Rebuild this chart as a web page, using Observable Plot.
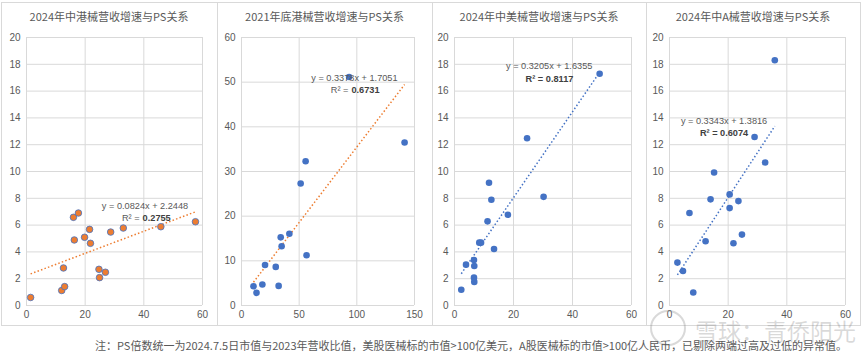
<!DOCTYPE html>
<html><head><meta charset="utf-8">
<script src="https://cdn.jsdelivr.net/npm/d3@7"></script>
<script src="https://cdn.jsdelivr.net/npm/@observablehq/plot@0.6"></script>
<style>
body{margin:0;background:#fff;}
#wrap{position:relative;width:865px;height:356px;overflow:hidden;background:#fff;}
.box{position:absolute;top:2px;height:324px;border:1px solid #D9D9D9;box-sizing:border-box;}
.title{position:absolute;top:9px;font-size:11px;line-height:14px;color:#595959;text-align:center;font-family:"Noto Sans CJK SC",sans-serif;white-space:nowrap;}
.plot{position:absolute;top:0;}
#note{position:absolute;left:95px;top:338px;font-size:11px;line-height:14px;color:#595959;font-family:"Noto Sans CJK SC",sans-serif;white-space:nowrap;}
#wm{position:absolute;left:695px;top:316px;font-size:23px;line-height:28px;color:rgba(120,120,120,0.28);font-family:"Noto Sans CJK SC",sans-serif;white-space:nowrap;}
#wmc{position:absolute;left:650px;top:310px;width:36px;height:36px;border:2px solid rgba(120,120,120,0.28);border-radius:50%;box-sizing:border-box;}
</style>
</head><body>
<div id="wrap"></div>
<script>
// ---- data ----
const titles = ["2024年中港械营收增速与PS关系","2021年底港械营收增速与PS关系","2024年中美械营收增速与PS关系","2024年中A械营收增速与PS关系"];
const hk24X = [1.4, 12.0, 13.0, 12.6, 16.0, 17.7, 16.3, 19.8, 21.5, 21.8, 24.7, 24.9, 26.9, 28.7, 33.0, 45.8, 57.6];
const hk24Y = [0.6, 1.12, 1.41, 2.8, 6.58, 6.9, 4.89, 5.09, 5.68, 4.64, 2.70, 2.08, 2.48, 5.48, 5.78, 5.88, 6.25];
const hk21X = [10.4, 13.0, 18.1, 20.4, 29.7, 32.2, 34.0, 34.8, 41.5, 51.3, 55.6, 56.4, 93.3, 141.4];
const hk21Y = [4.32, 2.83, 4.69, 9.08, 8.64, 4.39, 15.26, 13.25, 16.08, 27.3, 32.3, 11.24, 51.15, 36.5];
const us24X = [2.3, 3.9, 6.6, 6.7, 6.6, 6.7, 8.4, 9.0, 13.4, 11.2, 11.7, 12.5, 18.1, 24.6, 30.2, 49.2];
const us24Y = [1.17, 3.05, 3.40, 2.95, 2.08, 1.76, 4.69, 4.69, 4.22, 6.28, 9.16, 7.89, 6.77, 12.48, 8.11, 17.3];
const cn24X = [2.7, 4.6, 8.1, 6.8, 12.3, 14.0, 15.2, 20.5, 20.5, 23.5, 21.8, 24.7, 29.0, 32.6, 35.9];
const cn24Y = [3.2, 2.58, 0.97, 6.9, 4.79, 7.92, 9.93, 8.29, 7.27, 7.79, 4.64, 5.29, 12.58, 10.67, 18.3];
const slopes = [0.0824, 0.3378, 0.3205, 0.3343];
const intercepts = [2.2448, 1.7051, 1.6355, 1.3816];
const eqLabels = ["y = 0.0824x + 2.2448","y = 0.3378x + 1.7051","y = 0.3205x + 1.6355","y = 0.3343x + 1.3816"];
const r2Values = ["0.2755","0.6731","0.8117","0.6074"];
const xTicksA = [0, 20, 40, 60];
const yTicksA = [0, 2, 4, 6, 8, 10, 12, 14, 16, 18, 20];
const xTicksB = [0, 50, 100, 150];
const yTicksB = [0, 10, 20, 30, 40, 50, 60];
const note = "注：PS倍数统一为2024.7.5日市值与2023年营收比值，美股医械标的市值>100亿美元，A股医械标的市值>100亿人民币，已剔除两端过高及过低的异常值。";
const watermark = "雪球：青侨阳光";

const ORANGE = "#ED7D31", BLUE = "#4472C4", GRID = "#D9D9D9", TXT = "#595959";

const panels = [
  {xs: hk24X, ys: hk24Y, xd:[0,60], yd:[0,20], xt:xTicksA, yt:yTicksA, box:[1,217], plot:[26,202], dotFill:ORANGE, dotStroke:BLUE, line:ORANGE,
   eq:[40.4,7.42], r2:[38.9,6.5], r2Bold:false},
  {xs: hk21X, ys: hk21Y, xd:[0,150], yd:[0,60], xt:xTicksB, yt:yTicksB, box:[217,432], plot:[241,414], dotFill:BLUE, dotStroke:"none", line:ORANGE,
   eq:[97.9,50.9], r2:[93.6,48.3], r2Bold:false},
  {xs: us24X, ys: us24Y, xd:[0,60], yd:[0,20], xt:xTicksA, yt:yTicksA, box:[432,646], plot:[454,631], dotFill:BLUE, dotStroke:"none", line:BLUE,
   eq:[32.1,17.84], r2:[32.2,16.92], r2Bold:true},
  {xs: cn24X, ys: cn24Y, xd:[0,60], yd:[0,20], xt:xTicksA, yt:yTicksA, box:[646,860], plot:[669,845], dotFill:BLUE, dotStroke:"none", line:BLUE,
   eq:[18.6,13.8], r2:[18.6,12.85], r2Bold:true}
];

const wrap = document.getElementById("wrap");
const FONT = '"Liberation Sans","Noto Sans CJK SC",sans-serif';

panels.forEach((p, i) => {
  const box = document.createElement("div");
  box.className = "box";
  box.style.left = p.box[0] + "px";
  box.style.width = (p.box[1] - p.box[0] + 1) + "px";
  wrap.appendChild(box);

  const t = document.createElement("div");
  t.className = "title";
  t.style.left = p.box[0] + "px";
  t.style.width = (p.box[1] - p.box[0]) + "px";
  t.textContent = titles[i];
  wrap.appendChild(t);

  const pts = p.xs.map((x, k) => ({x, y: p.ys[k]}));
  const [x0, x1] = d3.extent(p.xs);
  const trend = [x0, x1].map(x => ({x, y: slopes[i] * x + intercepts[i]}));
  const W = p.box[1] - p.box[0];

  const marks = [
    Plot.gridX(p.xt, {stroke: GRID, strokeOpacity: 1}),
    Plot.gridY(p.yt, {stroke: GRID, strokeOpacity: 1}),
    Plot.axisX(p.xt, {tickSize: 0, tickPadding: 5, fill: TXT, fontSize: 10}),
    Plot.axisY(p.yt, {tickSize: 0, tickPadding: 6, fill: TXT, fontSize: 10}),
    Plot.line(trend, {x: "x", y: "y", stroke: p.line, strokeWidth: 1.5, strokeDasharray: "1.5,2.2", strokeLinecap: "butt"}),
    Plot.dot(pts, {x: "x", y: "y", r: 3.3, fill: p.dotFill, stroke: p.dotStroke, strokeWidth: 0.8}),
    Plot.text([eqLabels[i]], {x: p.eq[0], y: p.eq[1], text: d => d, fill: TXT, fontSize: 9.2})
  ];
  if (p.r2Bold) {
    marks.push(Plot.text(["R² = " + r2Values[i]], {x: p.r2[0], y: p.r2[1], text: d => d, fill: "#404040", fontSize: 9.2, fontWeight: "bold"}));
  } else {
    marks.push(Plot.text(["R² ="], {x: p.r2[0], y: p.r2[1], text: d => d, fill: TXT, fontSize: 9.2, textAnchor: "end", dx: -1}));
    marks.push(Plot.text([r2Values[i]], {x: p.r2[0], y: p.r2[1], text: d => d, fill: "#404040", fontSize: 9.2, fontWeight: "bold", textAnchor: "start", dx: 2}));
  }

  const svg = Plot.plot({
    width: W, height: 326,
    marginLeft: p.plot[0] - p.box[0], marginRight: p.box[1] - p.plot[1],
    marginTop: 37, marginBottom: 21,
    x: {domain: p.xd, label: null},
    y: {domain: p.yd, label: null},
    style: {fontFamily: FONT, fontSize: "10px", color: TXT, background: "transparent", overflow: "visible"},
    marks
  });
  svg.classList.add("plot");
  svg.style.position = "absolute";
  svg.style.left = p.box[0] + "px";
  svg.style.top = "0px";
  wrap.appendChild(svg);
});

const wmc = document.createElement("div"); wmc.id = "wmc"; wrap.appendChild(wmc);
const wm = document.createElement("div"); wm.id = "wm"; wm.textContent = watermark; wrap.appendChild(wm);
const n = document.createElement("div"); n.id = "note"; n.textContent = note; wrap.appendChild(n);
</script>
</body></html>
